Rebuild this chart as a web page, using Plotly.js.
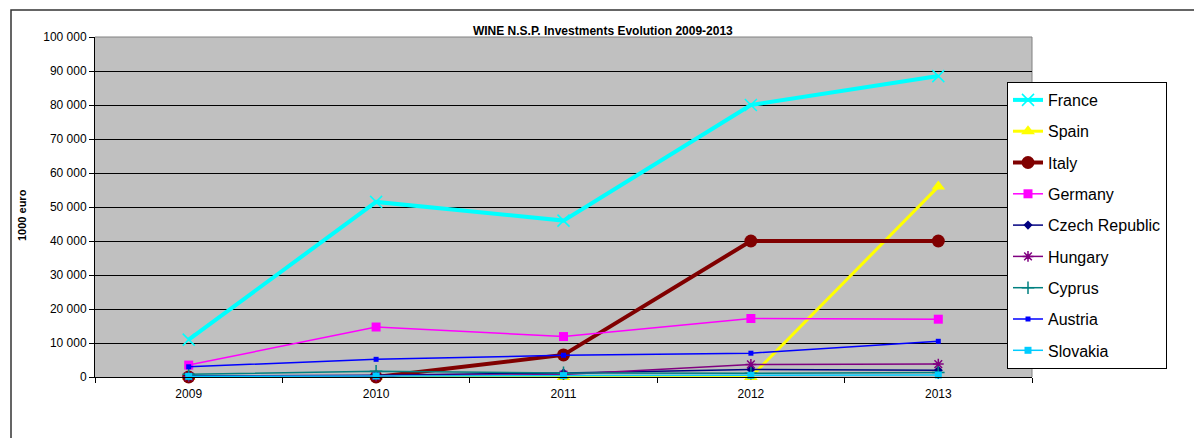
<!DOCTYPE html>
<html>
<head>
<meta charset="utf-8">
<script src="https://cdn.plot.ly/plotly-3.0.1.min.js"></script>
<style>
html,body{margin:0;padding:0;background:#fff;}
#chart{width:1194px;height:438px;}
</style>
</head>
<body>
<div id="chart"></div>
<script>
const years = ['2009', '2010', '2011', '2012', '2013'];
const france = [11000, 51500, 46000, 80000, 88500];
const spain = [0, 0, 0, 0, 56000];
const italy = [0, 0, 6500, 40000, 40000];
const germany = [3500, 14700, 11900, 17200, 17000];
const czech = [300, 500, 1200, 2200, 2000];
const hungary = [100, 300, 700, 3700, 3800];
const cyprus = [800, 1700, 1200, 1100, 1300];
const austria = [3000, 5200, 6400, 7000, 10500];
const slovakia = [200, 300, 400, 500, 600];
const yTicks = [0, 10000, 20000, 30000, 40000, 50000, 60000, 70000, 80000, 90000, 100000];
const yTickText = ['0', '10 000', '20 000', '30 000', '40 000', '50 000', '60 000', '70 000', '80 000', '90 000', '100 000'];

function tr(name, y, color, width, symbol, size, mline) {
  return {
    type: 'scatter', mode: 'lines+markers', name: name, x: years, y: y,
    legendgroup: name, cliponaxis: false,
    line: {color: color, width: width},
    marker: {symbol: symbol, size: size, color: color, line: {color: color, width: mline || 0}}
  };
}

const data = [
  tr('France', france, '#00ffff', 4, 'x-thin-open', 12, 1.5),
  tr('Spain', spain, '#ffff00', 3, 'triangle-up', 12),
  tr('Italy', italy, '#800000', 4, 'circle', 13),
  tr('Germany', germany, '#ff00ff', 1.5, 'square', 9),
  tr('Czech Republic', czech, '#000080', 1.5, 'diamond', 7),
  tr('Hungary', hungary, '#800080', 1.5, 'asterisk-open', 9, 1.5),
  tr('Cyprus', cyprus, '#008080', 1.5, 'cross-thin-open', 9, 1.5),
  tr('Austria', austria, '#0000ff', 1.5, 'square', 5),
  tr('Slovakia', slovakia, '#00ccff', 1.5, 'square', 7)
];

const font = 'Arial, "Liberation Sans", sans-serif';

const layout = {
  width: 1194, height: 438,
  margin: {l: 95, r: 162, t: 37, b: 61},
  paper_bgcolor: '#ffffff',
  plot_bgcolor: '#c0c0c0',
  font: {family: font, color: '#000', size: 12},
  showlegend: true,
  title: {
    text: '<b>WINE N.S.P. Investments Evolution 2009-2013</b>',
    font: {family: font, size: 12, color: '#000'},
    xref: 'paper', x: 0.542, xanchor: 'center',
    yref: 'container', y: 1 - 31/438, yanchor: 'middle'
  },
  xaxis: {
    type: 'category',
    range: [-0.5, 4.5],
    tickson: 'boundaries',
    ticks: 'outside', ticklen: 5, tickcolor: '#000', tickwidth: 1,
    ticklabelstandoff: 6,
    showline: true, linecolor: '#000', linewidth: 1,
    showgrid: false, zeroline: false,
    tickfont: {family: font, size: 12, color: '#000'},
    fixedrange: true
  },
  yaxis: {
    range: [0, 100000],
    tickvals: yTicks, ticktext: yTickText,
    ticks: 'outside', ticklen: 5, tickcolor: '#000', tickwidth: 1,
    showline: true, linecolor: '#000', linewidth: 1,
    showgrid: true, gridcolor: '#000', gridwidth: 1,
    zeroline: false,
    tickfont: {family: font, size: 12, color: '#000'},
    fixedrange: true
  },
  legend: {
    x: (1007 - 95) / 937, xanchor: 'left',
    y: (377 - 82) / 340, yanchor: 'top',
    bgcolor: '#ffffff', bordercolor: '#000', borderwidth: 1,
    font: {family: font, size: 16, color: '#000'},
    tracegroupgap: 7.5,
    itemwidth: 30
  },
  annotations: [{
    text: '<b>1000 euro</b>', textangle: -90,
    xref: 'paper', yref: 'paper', x: (22 - 95) / 937, y: (377 - 215) / 340,
    xanchor: 'center', yanchor: 'middle', showarrow: false,
    font: {family: font, size: 11, color: '#000'}
  }],
  shapes: [
    {type: 'line', xref: 'paper', yref: 'paper', x0: 0, x1: 1, y0: 1, y1: 1, line: {color: '#808080', width: 1}},
    {type: 'line', xref: 'paper', yref: 'paper', x0: 1, x1: 1, y0: 0, y1: 1, line: {color: '#808080', width: 1}, layer: 'below'},
    {type: 'rect', xref: 'paper', yref: 'paper', x0: (11 - 95) / 937, x1: 1.3, y0: -0.5, y1: (377 - 10) / 340, line: {color: '#333', width: 1.5}}
  ]
};

Plotly.newPlot('chart', data, layout, {displayModeBar: false, staticPlot: true});
</script>
</body>
</html>
